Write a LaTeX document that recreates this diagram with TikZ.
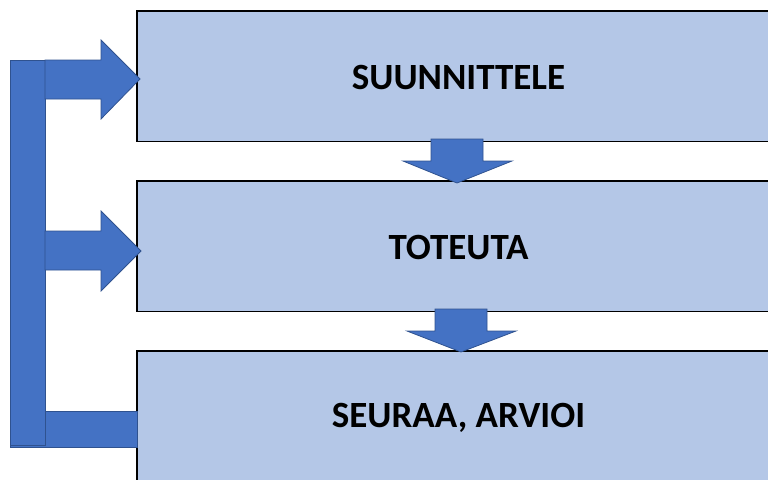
\documentclass[tikz,border=0pt]{standalone}
\usepackage{fontspec}
\setmainfont{Carlito}
\definecolor{boxfill}{HTML}{B4C7E7}
\definecolor{arrfill}{HTML}{4472C4}
\definecolor{arrline}{HTML}{2F528F}
\begin{document}
\begin{tikzpicture}[x=1pt,y=-1pt,
  stagebox/.style={fill=boxfill,anchor=north west,
    minimum width=631pt,minimum height=130pt,inner sep=0pt},
  boxline/.style={draw=black,line width=1.6pt},
  stagetext/.style={font=\fontsize{37}{37}\selectfont\bfseries,text=black,inner sep=0pt},
  arrshape/.style={fill=arrfill,draw=arrline,line width=0.8pt,line join=miter}]
\useasboundingbox (0,0) rectangle (768,479);
\node[stagebox] (b1) at (137,11) {};
\node[stagebox] (b2) at (137,181) {};
\node[stagebox] (b3) at (137,351) {};
\draw[boxline] (b1.north east) -- (b1.north west) -- (b1.south west) -- (b1.south east);
\draw[boxline] (b2.north east) -- (b2.north west) -- (b2.south west) -- (b2.south east);
\draw[boxline] (b3.north east) -- (b3.north west) -- (b3.south west);
\node[stagetext] (t1) at (458.5,78) {SUUNNITTELE};
\node[stagetext] (t2) at (458.5,248) {TOTEUTA};
\node[stagetext] (t3) at (458.5,418) {SEURAA, ARVIOI};
% feedback bracket
\draw[arrshape] (10,411) rectangle (b3.west |- 0,447);
\draw[arrshape] (10,60) rectangle (45,445);
\draw[arrshape] (45,60) -- (101,60) -- (101,40) -- (140,79) -- (101,119) -- (101,99) -- (45,99) -- cycle;
\draw[arrshape] (45,231) -- (101,231) -- (101,211) -- (141,251) -- (101,291) -- (101,270) -- (45,270) -- cycle;
% down arrows
\draw[arrshape] (431,139) -- (483,139) -- (483,161) -- (512,161) -- (457,183) -- (403,161) -- (431,161) -- cycle;
\draw[arrshape] (435,309) -- (487,309) -- (487,331) -- (516,331) -- (461,352) -- (407,331) -- (435,331) -- cycle;
\end{tikzpicture}
\end{document}
